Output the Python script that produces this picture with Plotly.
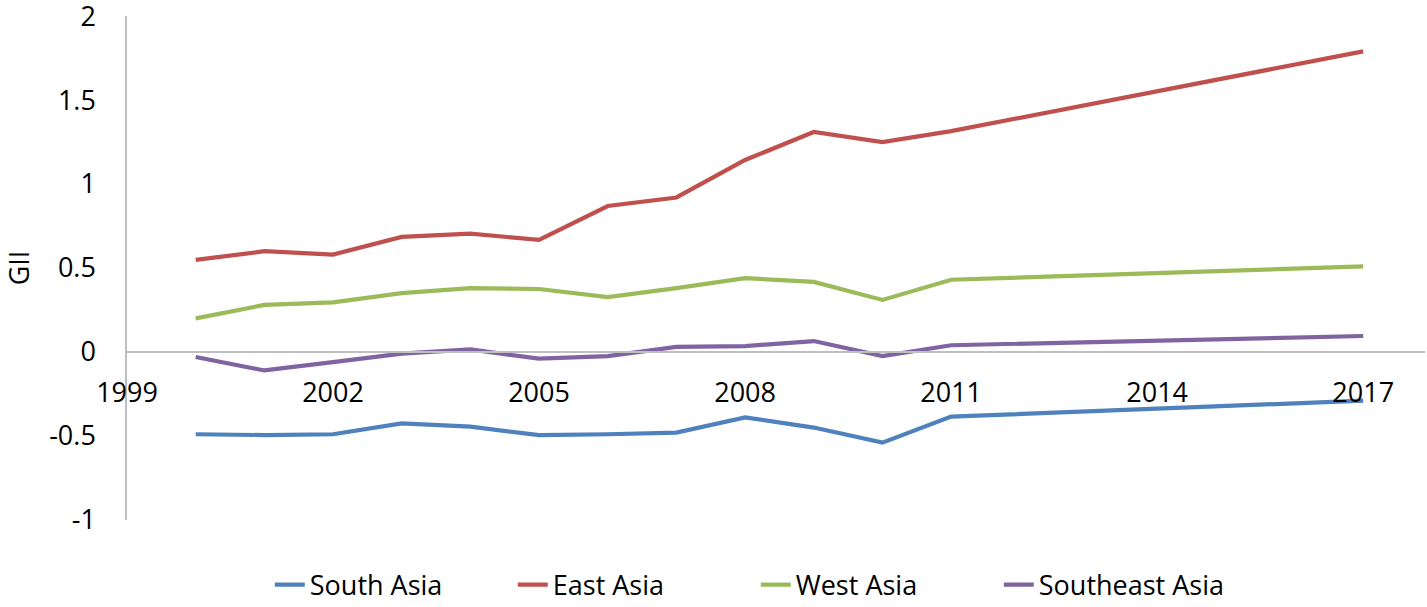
import plotly.graph_objects as go

years = [2000, 2001, 2002, 2003, 2004, 2005, 2006, 2007, 2008, 2009, 2010, 2011, 2017]
south_asia = [-0.49, -0.495, -0.49, -0.425, -0.445, -0.495, -0.49, -0.48, -0.39, -0.45, -0.54, -0.385, -0.29]
east_asia = [0.548, 0.60, 0.58, 0.685, 0.705, 0.667, 0.869, 0.92, 1.143, 1.31, 1.25, 1.315, 1.79]
west_asia = [0.20, 0.28, 0.295, 0.35, 0.38, 0.375, 0.327, 0.38, 0.44, 0.417, 0.31, 0.43, 0.51]
southeast_asia = [-0.03, -0.11, -0.06, -0.01, 0.015, -0.04, -0.025, 0.03, 0.035, 0.065, -0.025, 0.04, 0.095]

series = [
    ("South Asia", south_asia, "#4F81BD"),
    ("East Asia", east_asia, "#C0504D"),
    ("West Asia", west_asia, "#9BBB59"),
    ("Southeast Asia", southeast_asia, "#8064A2"),
]

x_ticks = [1999, 2002, 2005, 2008, 2011, 2014, 2017]
y_ticks = [-1, -0.5, 0, 0.5, 1, 1.5, 2]
y_tick_text = ["-1", "-0.5", "0", "0.5", "1", "1.5", "2"]

FONT = "Open Sans"
FS = 27

fig = go.Figure()
for name, vals, color in series:
    fig.add_trace(go.Scatter(
        x=years, y=vals, mode="lines", name=name,
        line=dict(color=color, width=4.2),
    ))

fig.update_layout(
    width=1427, height=607,
    margin=dict(l=127, r=2, t=16, b=87, autoexpand=False),
    plot_bgcolor="white", paper_bgcolor="white",
    font=dict(family=FONT, size=FS, color="black"),
    showlegend=True,
    legend=dict(
        orientation="h", x=0.11, xanchor="left", y=-0.129, yanchor="middle",
        entrywidth=198, entrywidthmode="pixels",
        font=dict(family=FONT, size=FS, color="black"),
        bgcolor="rgba(0,0,0,0)",
    ),
)

fig.update_xaxes(
    range=[1999, 2017.9],
    tickmode="array", tickvals=x_ticks, ticktext=[str(t) for t in x_ticks],
    showgrid=False, zeroline=False, automargin=False,
    showline=True, linecolor="#BFBFBF", linewidth=1.5,
    anchor="free", position=1/3,
    ticks="", ticklabelstandoff=17, ticklabeloverflow="allow",
    tickfont=dict(family=FONT, size=FS, color="black"),
)
fig.update_yaxes(
    range=[-1.0005, 2.0005],
    tickmode="array", tickvals=y_ticks, ticktext=y_tick_text,
    showgrid=False, zeroline=False, automargin=False,
    showline=True, linecolor="#BFBFBF", linewidth=1.5,
    ticks="", ticklabelstandoff=24, ticklabeloverflow="allow",
    tickfont=dict(family=FONT, size=FS, color="black"),
    title=dict(text="GII", standoff=14, font=dict(family=FONT, size=FS, color="black")),
)

fig.write_html(
    "out.html",
    config={"displayModeBar": False},
    post_script="document.body.style.margin='0px';document.body.style.overflow='hidden';",
)
